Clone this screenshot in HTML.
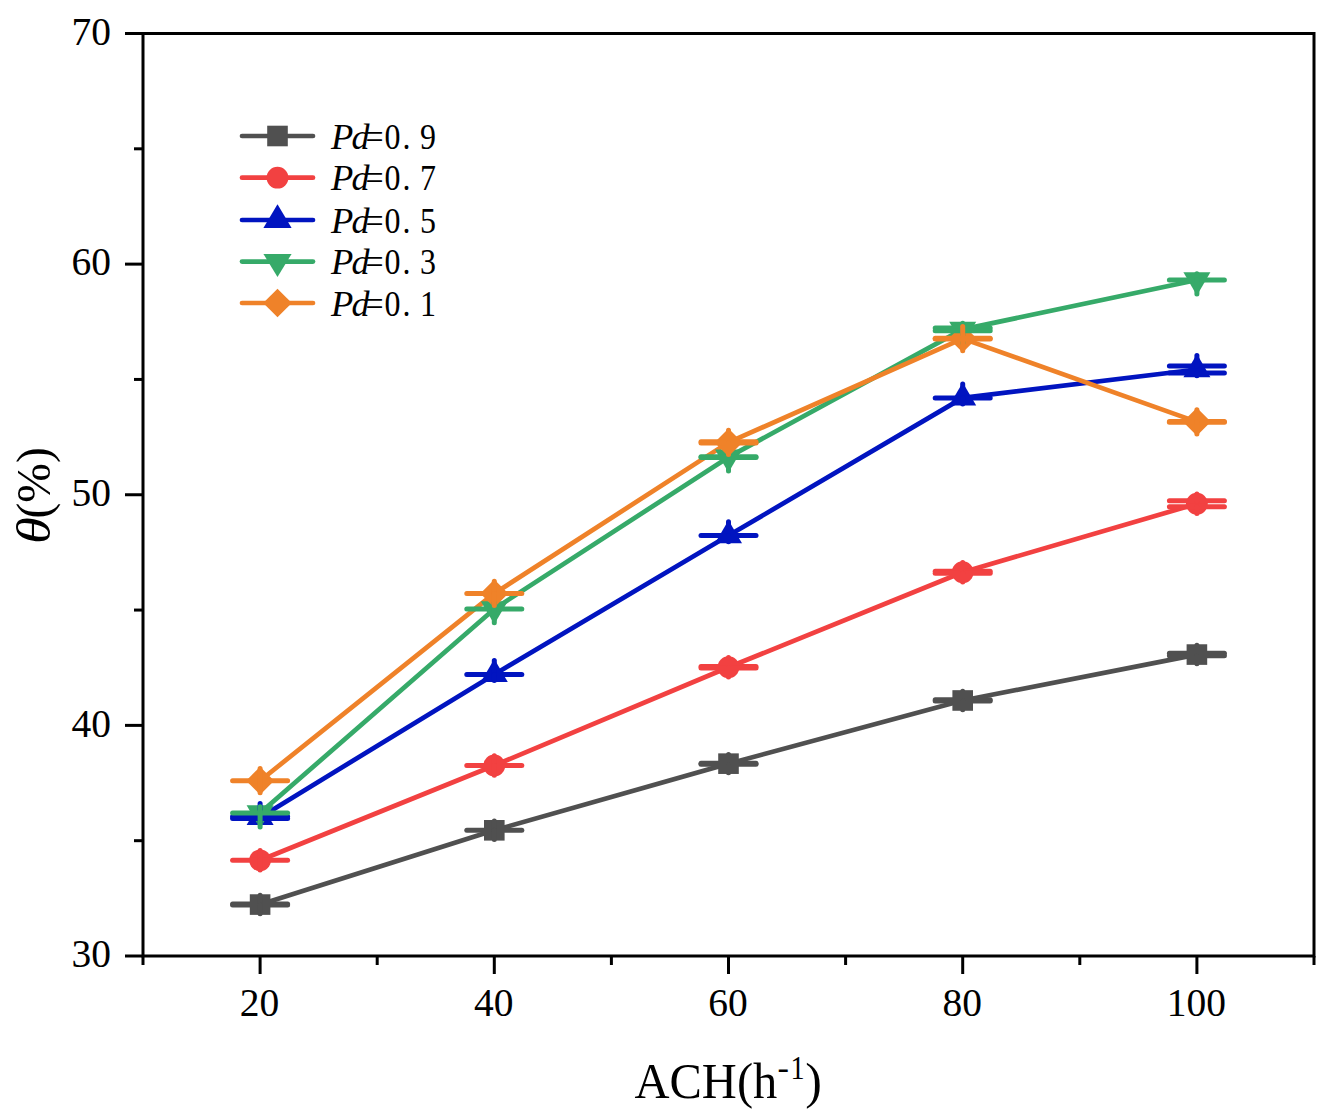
<!DOCTYPE html>
<html><head><meta charset="utf-8"><style>
html,body{margin:0;padding:0;background:#fff;overflow:hidden;width:1335px;height:1120px;}
svg{display:block;}
text{font-family:"Liberation Serif",serif;fill:#000;}
</style></head><body>
<svg width="1335" height="1120" viewBox="0 0 1335 1120">
<rect width="1335" height="1120" fill="#fff"/>

<polyline points="260.10,904.57 494.30,830.31 728.50,763.66 962.70,700.47 1196.90,654.57" fill="none" stroke="#505050" stroke-width="4.7" stroke-linejoin="round" stroke-linecap="round"/>
<polyline points="260.10,860.29 494.30,765.50 728.50,667.26 962.70,572.24 1196.90,503.74" fill="none" stroke="#F24141" stroke-width="4.7" stroke-linejoin="round" stroke-linecap="round"/>
<polyline points="260.10,817.39 494.30,674.41 728.50,535.57 962.70,397.89 1196.90,369.52" fill="none" stroke="#0114C0" stroke-width="4.7" stroke-linejoin="round" stroke-linecap="round"/>
<polyline points="260.10,813.01 494.30,608.91 728.50,457.16 962.70,329.39 1196.90,280.04" fill="none" stroke="#36AA69" stroke-width="4.7" stroke-linejoin="round" stroke-linecap="round"/>
<polyline points="260.10,780.72 494.30,593.46 728.50,442.40 962.70,338.62 1196.90,421.87" fill="none" stroke="#EF8229" stroke-width="4.7" stroke-linejoin="round" stroke-linecap="round"/>
<rect x="249.80" y="894.27" width="20.60" height="20.60" fill="#505050"/>
<rect x="484.00" y="820.01" width="20.60" height="20.60" fill="#505050"/>
<rect x="718.20" y="753.36" width="20.60" height="20.60" fill="#505050"/>
<rect x="952.40" y="690.17" width="20.60" height="20.60" fill="#505050"/>
<rect x="1186.60" y="644.27" width="20.60" height="20.60" fill="#505050"/>
<circle cx="260.10" cy="860.29" r="10.9" fill="#F24141"/>
<circle cx="494.30" cy="765.50" r="10.9" fill="#F24141"/>
<circle cx="728.50" cy="667.26" r="10.9" fill="#F24141"/>
<circle cx="962.70" cy="572.24" r="10.9" fill="#F24141"/>
<circle cx="1196.90" cy="503.74" r="10.9" fill="#F24141"/>
<polygon points="260.10,801.99 273.60,825.09 246.60,825.09" fill="#0114C0"/>
<polygon points="494.30,659.01 507.80,682.11 480.80,682.11" fill="#0114C0"/>
<polygon points="728.50,520.17 742.00,543.27 715.00,543.27" fill="#0114C0"/>
<polygon points="962.70,382.49 976.20,405.59 949.20,405.59" fill="#0114C0"/>
<polygon points="1196.90,354.12 1210.40,377.22 1183.40,377.22" fill="#0114C0"/>
<polygon points="246.60,805.31 273.60,805.31 260.10,828.41" fill="#36AA69"/>
<polygon points="480.80,601.21 507.80,601.21 494.30,624.31" fill="#36AA69"/>
<polygon points="715.00,449.46 742.00,449.46 728.50,472.56" fill="#36AA69"/>
<polygon points="949.20,321.69 976.20,321.69 962.70,344.79" fill="#36AA69"/>
<polygon points="1183.40,272.34 1210.40,272.34 1196.90,295.44" fill="#36AA69"/>
<polygon points="260.10,766.72 274.10,780.72 260.10,794.72 246.10,780.72" fill="#EF8229"/>
<polygon points="494.30,579.46 508.30,593.46 494.30,607.46 480.30,593.46" fill="#EF8229"/>
<polygon points="728.50,428.40 742.50,442.40 728.50,456.40 714.50,442.40" fill="#EF8229"/>
<polygon points="962.70,324.62 976.70,338.62 962.70,352.62 948.70,338.62" fill="#EF8229"/>
<polygon points="1196.90,407.87 1210.90,421.87 1196.90,435.87 1182.90,421.87" fill="#EF8229"/>
<line x1="232.60" y1="904.07" x2="287.60" y2="904.07" stroke="#505050" stroke-width="5.0" stroke-linecap="round"/>
<line x1="232.60" y1="905.07" x2="287.60" y2="905.07" stroke="#505050" stroke-width="5.0" stroke-linecap="round"/>
<line x1="260.10" y1="904.07" x2="260.10" y2="895.37" stroke="#505050" stroke-width="5.0" stroke-linecap="round"/><line x1="260.10" y1="905.07" x2="260.10" y2="913.77" stroke="#505050" stroke-width="5.0" stroke-linecap="round"/>
<line x1="466.80" y1="830.31" x2="521.80" y2="830.31" stroke="#505050" stroke-width="5.0" stroke-linecap="round"/>
<line x1="494.30" y1="830.31" x2="494.30" y2="821.11" stroke="#505050" stroke-width="5.0" stroke-linecap="round"/><line x1="494.30" y1="830.31" x2="494.30" y2="839.51" stroke="#505050" stroke-width="5.0" stroke-linecap="round"/>
<line x1="701.00" y1="763.16" x2="756.00" y2="763.16" stroke="#505050" stroke-width="5.0" stroke-linecap="round"/>
<line x1="701.00" y1="764.16" x2="756.00" y2="764.16" stroke="#505050" stroke-width="5.0" stroke-linecap="round"/>
<line x1="728.50" y1="763.16" x2="728.50" y2="754.46" stroke="#505050" stroke-width="5.0" stroke-linecap="round"/><line x1="728.50" y1="764.16" x2="728.50" y2="772.86" stroke="#505050" stroke-width="5.0" stroke-linecap="round"/>
<line x1="935.20" y1="699.82" x2="990.20" y2="699.82" stroke="#505050" stroke-width="5.0" stroke-linecap="round"/>
<line x1="935.20" y1="701.12" x2="990.20" y2="701.12" stroke="#505050" stroke-width="5.0" stroke-linecap="round"/>
<line x1="962.70" y1="699.82" x2="962.70" y2="691.27" stroke="#505050" stroke-width="5.0" stroke-linecap="round"/><line x1="962.70" y1="701.12" x2="962.70" y2="709.67" stroke="#505050" stroke-width="5.0" stroke-linecap="round"/>
<line x1="1169.40" y1="653.32" x2="1224.40" y2="653.32" stroke="#505050" stroke-width="5.0" stroke-linecap="round"/>
<line x1="1169.40" y1="655.82" x2="1224.40" y2="655.82" stroke="#505050" stroke-width="5.0" stroke-linecap="round"/>
<line x1="1196.90" y1="653.32" x2="1196.90" y2="645.37" stroke="#505050" stroke-width="5.0" stroke-linecap="round"/><line x1="1196.90" y1="655.82" x2="1196.90" y2="663.77" stroke="#505050" stroke-width="5.0" stroke-linecap="round"/>
<line x1="232.60" y1="860.29" x2="287.60" y2="860.29" stroke="#F24141" stroke-width="5.0" stroke-linecap="round"/>
<line x1="260.10" y1="860.29" x2="260.10" y2="850.49" stroke="#F24141" stroke-width="5.0" stroke-linecap="round"/><line x1="260.10" y1="860.29" x2="260.10" y2="870.09" stroke="#F24141" stroke-width="5.0" stroke-linecap="round"/>
<line x1="466.80" y1="765.50" x2="521.80" y2="765.50" stroke="#F24141" stroke-width="5.0" stroke-linecap="round"/>
<line x1="494.30" y1="765.50" x2="494.30" y2="755.70" stroke="#F24141" stroke-width="5.0" stroke-linecap="round"/><line x1="494.30" y1="765.50" x2="494.30" y2="775.30" stroke="#F24141" stroke-width="5.0" stroke-linecap="round"/>
<line x1="701.00" y1="666.41" x2="756.00" y2="666.41" stroke="#F24141" stroke-width="5.0" stroke-linecap="round"/>
<line x1="701.00" y1="668.11" x2="756.00" y2="668.11" stroke="#F24141" stroke-width="5.0" stroke-linecap="round"/>
<line x1="728.50" y1="666.41" x2="728.50" y2="657.46" stroke="#F24141" stroke-width="5.0" stroke-linecap="round"/><line x1="728.50" y1="668.11" x2="728.50" y2="677.06" stroke="#F24141" stroke-width="5.0" stroke-linecap="round"/>
<line x1="935.20" y1="571.19" x2="990.20" y2="571.19" stroke="#F24141" stroke-width="5.0" stroke-linecap="round"/>
<line x1="935.20" y1="573.29" x2="990.20" y2="573.29" stroke="#F24141" stroke-width="5.0" stroke-linecap="round"/>
<line x1="962.70" y1="571.19" x2="962.70" y2="562.44" stroke="#F24141" stroke-width="5.0" stroke-linecap="round"/><line x1="962.70" y1="573.29" x2="962.70" y2="582.04" stroke="#F24141" stroke-width="5.0" stroke-linecap="round"/>
<line x1="1169.40" y1="500.69" x2="1224.40" y2="500.69" stroke="#F24141" stroke-width="5.0" stroke-linecap="round"/>
<line x1="1169.40" y1="506.79" x2="1224.40" y2="506.79" stroke="#F24141" stroke-width="5.0" stroke-linecap="round"/>
<line x1="1196.90" y1="500.69" x2="1196.90" y2="493.94" stroke="#F24141" stroke-width="5.0" stroke-linecap="round"/><line x1="1196.90" y1="506.79" x2="1196.90" y2="513.54" stroke="#F24141" stroke-width="5.0" stroke-linecap="round"/>
<line x1="232.60" y1="816.39" x2="287.60" y2="816.39" stroke="#0114C0" stroke-width="5.0" stroke-linecap="round"/>
<line x1="232.60" y1="818.39" x2="287.60" y2="818.39" stroke="#0114C0" stroke-width="5.0" stroke-linecap="round"/>
<line x1="260.10" y1="816.39" x2="260.10" y2="803.49" stroke="#0114C0" stroke-width="5.0" stroke-linecap="round"/><line x1="260.10" y1="818.39" x2="260.10" y2="823.59" stroke="#0114C0" stroke-width="5.0" stroke-linecap="round"/>
<line x1="466.80" y1="674.41" x2="521.80" y2="674.41" stroke="#0114C0" stroke-width="5.0" stroke-linecap="round"/>
<line x1="494.30" y1="674.41" x2="494.30" y2="660.51" stroke="#0114C0" stroke-width="5.0" stroke-linecap="round"/><line x1="494.30" y1="674.41" x2="494.30" y2="680.61" stroke="#0114C0" stroke-width="5.0" stroke-linecap="round"/>
<line x1="701.00" y1="535.57" x2="756.00" y2="535.57" stroke="#0114C0" stroke-width="5.0" stroke-linecap="round"/>
<line x1="728.50" y1="535.57" x2="728.50" y2="521.67" stroke="#0114C0" stroke-width="5.0" stroke-linecap="round"/><line x1="728.50" y1="535.57" x2="728.50" y2="541.77" stroke="#0114C0" stroke-width="5.0" stroke-linecap="round"/>
<line x1="935.20" y1="397.89" x2="990.20" y2="397.89" stroke="#0114C0" stroke-width="5.0" stroke-linecap="round"/>
<line x1="962.70" y1="397.89" x2="962.70" y2="383.99" stroke="#0114C0" stroke-width="5.0" stroke-linecap="round"/><line x1="962.70" y1="397.89" x2="962.70" y2="404.09" stroke="#0114C0" stroke-width="5.0" stroke-linecap="round"/>
<line x1="1169.40" y1="366.02" x2="1224.40" y2="366.02" stroke="#0114C0" stroke-width="5.0" stroke-linecap="round"/>
<line x1="1169.40" y1="373.02" x2="1224.40" y2="373.02" stroke="#0114C0" stroke-width="5.0" stroke-linecap="round"/>
<line x1="1196.90" y1="366.02" x2="1196.90" y2="355.62" stroke="#0114C0" stroke-width="5.0" stroke-linecap="round"/><line x1="1196.90" y1="373.02" x2="1196.90" y2="375.72" stroke="#0114C0" stroke-width="5.0" stroke-linecap="round"/>
<line x1="232.60" y1="813.01" x2="287.60" y2="813.01" stroke="#36AA69" stroke-width="5.0" stroke-linecap="round"/>
<line x1="260.10" y1="813.01" x2="260.10" y2="806.81" stroke="#36AA69" stroke-width="5.0" stroke-linecap="round"/><line x1="260.10" y1="813.01" x2="260.10" y2="826.91" stroke="#36AA69" stroke-width="5.0" stroke-linecap="round"/>
<line x1="466.80" y1="608.91" x2="521.80" y2="608.91" stroke="#36AA69" stroke-width="5.0" stroke-linecap="round"/>
<line x1="494.30" y1="608.91" x2="494.30" y2="602.71" stroke="#36AA69" stroke-width="5.0" stroke-linecap="round"/><line x1="494.30" y1="608.91" x2="494.30" y2="622.81" stroke="#36AA69" stroke-width="5.0" stroke-linecap="round"/>
<line x1="701.00" y1="456.86" x2="756.00" y2="456.86" stroke="#36AA69" stroke-width="5.0" stroke-linecap="round"/>
<line x1="701.00" y1="457.46" x2="756.00" y2="457.46" stroke="#36AA69" stroke-width="5.0" stroke-linecap="round"/>
<line x1="728.50" y1="456.86" x2="728.50" y2="450.96" stroke="#36AA69" stroke-width="5.0" stroke-linecap="round"/><line x1="728.50" y1="457.46" x2="728.50" y2="471.06" stroke="#36AA69" stroke-width="5.0" stroke-linecap="round"/>
<line x1="935.20" y1="327.94" x2="990.20" y2="327.94" stroke="#36AA69" stroke-width="5.0" stroke-linecap="round"/>
<line x1="935.20" y1="330.84" x2="990.20" y2="330.84" stroke="#36AA69" stroke-width="5.0" stroke-linecap="round"/>
<line x1="962.70" y1="327.94" x2="962.70" y2="323.19" stroke="#36AA69" stroke-width="5.0" stroke-linecap="round"/><line x1="962.70" y1="330.84" x2="962.70" y2="343.29" stroke="#36AA69" stroke-width="5.0" stroke-linecap="round"/>
<line x1="1169.40" y1="280.04" x2="1224.40" y2="280.04" stroke="#36AA69" stroke-width="5.0" stroke-linecap="round"/>
<line x1="1196.90" y1="280.04" x2="1196.90" y2="273.84" stroke="#36AA69" stroke-width="5.0" stroke-linecap="round"/><line x1="1196.90" y1="280.04" x2="1196.90" y2="293.94" stroke="#36AA69" stroke-width="5.0" stroke-linecap="round"/>
<line x1="232.60" y1="780.72" x2="287.60" y2="780.72" stroke="#EF8229" stroke-width="5.0" stroke-linecap="round"/>
<line x1="260.10" y1="780.72" x2="260.10" y2="768.62" stroke="#EF8229" stroke-width="5.0" stroke-linecap="round"/><line x1="260.10" y1="780.72" x2="260.10" y2="792.82" stroke="#EF8229" stroke-width="5.0" stroke-linecap="round"/>
<line x1="466.80" y1="593.46" x2="521.80" y2="593.46" stroke="#EF8229" stroke-width="5.0" stroke-linecap="round"/>
<line x1="494.30" y1="593.46" x2="494.30" y2="581.36" stroke="#EF8229" stroke-width="5.0" stroke-linecap="round"/><line x1="494.30" y1="593.46" x2="494.30" y2="605.56" stroke="#EF8229" stroke-width="5.0" stroke-linecap="round"/>
<line x1="701.00" y1="441.80" x2="756.00" y2="441.80" stroke="#EF8229" stroke-width="5.0" stroke-linecap="round"/>
<line x1="701.00" y1="443.00" x2="756.00" y2="443.00" stroke="#EF8229" stroke-width="5.0" stroke-linecap="round"/>
<line x1="728.50" y1="441.80" x2="728.50" y2="430.30" stroke="#EF8229" stroke-width="5.0" stroke-linecap="round"/><line x1="728.50" y1="443.00" x2="728.50" y2="454.50" stroke="#EF8229" stroke-width="5.0" stroke-linecap="round"/>
<line x1="935.20" y1="338.17" x2="990.20" y2="338.17" stroke="#EF8229" stroke-width="5.0" stroke-linecap="round"/>
<line x1="935.20" y1="339.07" x2="990.20" y2="339.07" stroke="#EF8229" stroke-width="5.0" stroke-linecap="round"/>
<line x1="962.70" y1="338.17" x2="962.70" y2="326.52" stroke="#EF8229" stroke-width="5.0" stroke-linecap="round"/><line x1="962.70" y1="339.07" x2="962.70" y2="350.72" stroke="#EF8229" stroke-width="5.0" stroke-linecap="round"/>
<line x1="1169.40" y1="421.52" x2="1224.40" y2="421.52" stroke="#EF8229" stroke-width="5.0" stroke-linecap="round"/>
<line x1="1169.40" y1="422.22" x2="1224.40" y2="422.22" stroke="#EF8229" stroke-width="5.0" stroke-linecap="round"/>
<line x1="1196.90" y1="421.52" x2="1196.90" y2="409.77" stroke="#EF8229" stroke-width="5.0" stroke-linecap="round"/><line x1="1196.90" y1="422.22" x2="1196.90" y2="433.97" stroke="#EF8229" stroke-width="5.0" stroke-linecap="round"/>
<g stroke="#000" stroke-width="3" fill="none" stroke-linecap="butt">
<path d="M143.0,956.0 L143.0,33.5 L1314.0,33.5 L1314.0,956.0 Z" stroke-linecap="butt" stroke-linejoin="miter"/>
<line x1="125.0" y1="956.00" x2="143.0" y2="956.00"/>
<line x1="134.0" y1="840.69" x2="143.0" y2="840.69"/>
<line x1="125.0" y1="725.38" x2="143.0" y2="725.38"/>
<line x1="134.0" y1="610.06" x2="143.0" y2="610.06"/>
<line x1="125.0" y1="494.75" x2="143.0" y2="494.75"/>
<line x1="134.0" y1="379.44" x2="143.0" y2="379.44"/>
<line x1="125.0" y1="264.12" x2="143.0" y2="264.12"/>
<line x1="134.0" y1="148.81" x2="143.0" y2="148.81"/>
<line x1="125.0" y1="33.50" x2="143.0" y2="33.50"/>
<line x1="143.00" y1="956.0" x2="143.00" y2="965.0"/>
<line x1="260.10" y1="956.0" x2="260.10" y2="974.0"/>
<line x1="377.20" y1="956.0" x2="377.20" y2="965.0"/>
<line x1="494.30" y1="956.0" x2="494.30" y2="974.0"/>
<line x1="611.40" y1="956.0" x2="611.40" y2="965.0"/>
<line x1="728.50" y1="956.0" x2="728.50" y2="974.0"/>
<line x1="845.60" y1="956.0" x2="845.60" y2="965.0"/>
<line x1="962.70" y1="956.0" x2="962.70" y2="974.0"/>
<line x1="1079.80" y1="956.0" x2="1079.80" y2="965.0"/>
<line x1="1196.90" y1="956.0" x2="1196.90" y2="974.0"/>
<line x1="1314.00" y1="956.0" x2="1314.00" y2="965.0"/>
</g>
<g font-size="39.5">
<text x="111" y="967.20" text-anchor="end">30</text>
<text x="111" y="736.58" text-anchor="end">40</text>
<text x="111" y="505.95" text-anchor="end">50</text>
<text x="111" y="275.32" text-anchor="end">60</text>
<text x="111" y="44.70" text-anchor="end">70</text>
<text x="259.60" y="1016.4" text-anchor="middle">20</text>
<text x="493.80" y="1016.4" text-anchor="middle">40</text>
<text x="728.00" y="1016.4" text-anchor="middle">60</text>
<text x="962.20" y="1016.4" text-anchor="middle">80</text>
<text x="1196.40" y="1016.4" text-anchor="middle">100</text>
</g>
<text transform="translate(634.5,1097.5) scale(0.97,1)" font-size="50">ACH(h</text>
<text x="777.4" y="1078.5" font-size="34.4">-</text>
<text transform="translate(790.4,1078.5) scale(0.82,1)" font-size="34.4">1</text>
<text x="805.3" y="1097.5" font-size="50">)</text>
<text transform="translate(50.2,543.9) rotate(-90) scale(1.117,1)" font-size="49" font-style="italic">θ</text>
<text transform="translate(50.2,518.5) rotate(-90) scale(0.97,1)" font-size="49">(%)</text>
<line x1="242" y1="136.00" x2="313" y2="136.00" stroke="#505050" stroke-width="4.7" stroke-linecap="round"/>
<rect x="267.20" y="125.70" width="20.60" height="20.60" fill="#505050"/>
<text x="331.1" y="148.60" font-size="36.5" font-style="italic">P</text>
<text x="351.4" y="148.60" font-size="36" font-style="italic">d</text>
<text transform="translate(365.5,148.60) scale(0.9,1)" font-size="35.5">=</text>
<text transform="translate(384.6,148.60) scale(0.9,1)" font-size="35.5">0</text>
<text transform="translate(402.4,148.60) scale(0.9,1)" font-size="35.5">.</text>
<text transform="translate(419.9,148.60) scale(0.9,1)" font-size="35.5">9</text>
<line x1="242" y1="177.70" x2="313" y2="177.70" stroke="#F24141" stroke-width="4.7" stroke-linecap="round"/>
<circle cx="277.50" cy="177.70" r="10.9" fill="#F24141"/>
<text x="331.1" y="190.30" font-size="36.5" font-style="italic">P</text>
<text x="351.4" y="190.30" font-size="36" font-style="italic">d</text>
<text transform="translate(365.5,190.30) scale(0.9,1)" font-size="35.5">=</text>
<text transform="translate(384.6,190.30) scale(0.9,1)" font-size="35.5">0</text>
<text transform="translate(402.4,190.30) scale(0.9,1)" font-size="35.5">.</text>
<text transform="translate(419.9,190.30) scale(0.9,1)" font-size="35.5">7</text>
<line x1="242" y1="220.00" x2="313" y2="220.00" stroke="#0114C0" stroke-width="4.7" stroke-linecap="round"/>
<polygon points="277.50,204.30 291.60,227.90 263.40,227.90" fill="#0114C0"/>
<text x="331.1" y="232.60" font-size="36.5" font-style="italic">P</text>
<text x="351.4" y="232.60" font-size="36" font-style="italic">d</text>
<text transform="translate(365.5,232.60) scale(0.9,1)" font-size="35.5">=</text>
<text transform="translate(384.6,232.60) scale(0.9,1)" font-size="35.5">0</text>
<text transform="translate(402.4,232.60) scale(0.9,1)" font-size="35.5">.</text>
<text transform="translate(419.9,232.60) scale(0.9,1)" font-size="35.5">5</text>
<line x1="242" y1="261.60" x2="313" y2="261.60" stroke="#36AA69" stroke-width="4.7" stroke-linecap="round"/>
<polygon points="263.40,253.90 291.60,253.90 277.50,276.90" fill="#36AA69"/>
<text x="331.1" y="274.20" font-size="36.5" font-style="italic">P</text>
<text x="351.4" y="274.20" font-size="36" font-style="italic">d</text>
<text transform="translate(365.5,274.20) scale(0.9,1)" font-size="35.5">=</text>
<text transform="translate(384.6,274.20) scale(0.9,1)" font-size="35.5">0</text>
<text transform="translate(402.4,274.20) scale(0.9,1)" font-size="35.5">.</text>
<text transform="translate(419.9,274.20) scale(0.9,1)" font-size="35.5">3</text>
<line x1="242" y1="303.00" x2="313" y2="303.00" stroke="#EF8229" stroke-width="4.7" stroke-linecap="round"/>
<polygon points="277.50,288.70 291.80,303.00 277.50,317.30 263.20,303.00" fill="#EF8229"/>
<text x="331.1" y="315.60" font-size="36.5" font-style="italic">P</text>
<text x="351.4" y="315.60" font-size="36" font-style="italic">d</text>
<text transform="translate(365.5,315.60) scale(0.9,1)" font-size="35.5">=</text>
<text transform="translate(384.6,315.60) scale(0.9,1)" font-size="35.5">0</text>
<text transform="translate(402.4,315.60) scale(0.9,1)" font-size="35.5">.</text>
<text transform="translate(419.9,315.60) scale(0.9,1)" font-size="35.5">1</text>
</svg>
</body></html>
